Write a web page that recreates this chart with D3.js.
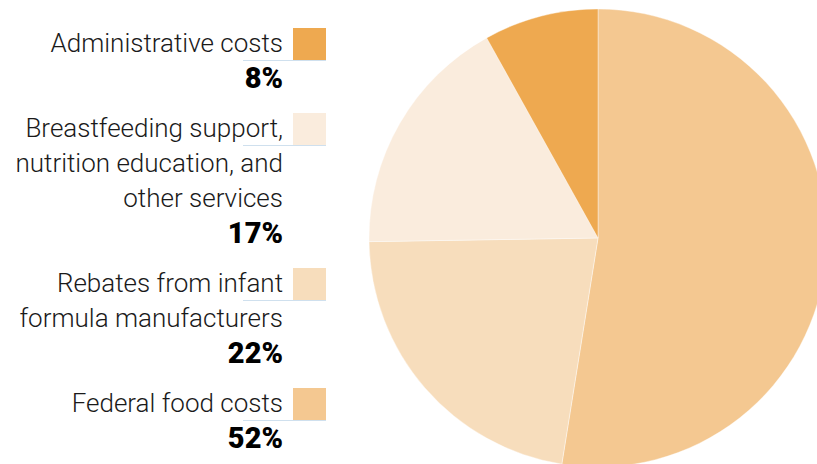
<!DOCTYPE html>
<html>
<head>
<meta charset="utf-8">
<script src="https://cdn.jsdelivr.net/npm/d3@7"></script>
<style>
  body { margin: 0; background: #fff; }
  svg { display: block; }
  .lbl { font-family: Roboto, sans-serif; font-weight: 300; font-size: 26px; fill: #1a1a1a; }
  .pct { font-family: Roboto, sans-serif; font-weight: 900; font-size: 29px; fill: #000; }
</style>
</head>
<body>
<div id="chart"></div>
<script>
// chart data
var categories = ["Federal food costs", "Rebates from infant formula manufacturers",
  "Breastfeeding support, nutrition education, and other services", "Administrative costs"];
var shares = [52, 22, 17, 8];
// legend is listed top to bottom in the opposite order
var legendLines = [
  ["Administrative costs"],
  ["Breastfeeding support,", "nutrition education, and", "other services"],
  ["Rebates from infant", "formula manufacturers"],
  ["Federal food costs"]
];
var legendShares = [8, 17, 22, 52];
var legendKeys = [categories[3], categories[2], categories[1], categories[0]];

var width = 817;
var height = 464;

var colorScale = d3.scaleOrdinal()
  .domain(categories)
  .range(["#f4c891", "#f7ddbc", "#faecdd", "#eea950"]);

var svg = d3.select("#chart")
  .append("svg")
  .attr("width", width)
  .attr("height", height);

// pie, starting at 12 o'clock going clockwise
var pie = d3.pie().sort(null).value(function (d) { return d.v; });
var arc = d3.arc().innerRadius(0).outerRadius(229);

var pieData = pie(categories.map(function (c, i) { return { k: c, v: shares[i] }; }));

svg.append("g")
  .attr("transform", "translate(598,238)")
  .selectAll("path")
  .data(pieData)
  .enter()
  .append("path")
  .attr("d", arc)
  .style("fill", function (d) { return colorScale(d.data.k); })
  .style("stroke", "#fff")
  .style("stroke-width", 0.4);

// legend
var lineH = 35;
var gap = 15;
var textX = 283;
var yPos = 28;

legendLines.forEach(function (lines, i) {
  var g = svg.append("g").attr("class", "legend");

  g.append("line")
    .attr("x1", 243).attr("x2", 326)
    .attr("y1", yPos + 32.5).attr("y2", yPos + 32.5)
    .style("stroke", "#cfe0ee")
    .style("stroke-width", 1);

  g.append("rect")
    .attr("x", 293)
    .attr("y", yPos)
    .attr("width", 33)
    .attr("height", 32)
    .style("fill", colorScale(legendKeys[i]));

  lines.forEach(function (t, j) {
    g.append("text")
      .attr("class", "lbl")
      .attr("x", textX)
      .attr("y", yPos + 24 + j * lineH)
      .style("text-anchor", "end")
      .text(t);
  });

  g.append("text")
    .attr("class", "pct")
    .attr("x", textX)
    .attr("y", yPos + 25 + lines.length * lineH)
    .style("text-anchor", "end")
    .text(legendShares[i] + "%");

  yPos += (lines.length + 1) * lineH + gap;
});
</script>
</body>
</html>
